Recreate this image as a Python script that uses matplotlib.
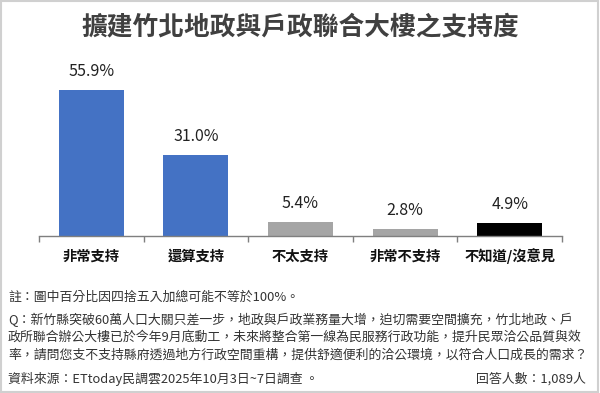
import matplotlib
matplotlib.use("Agg")
import matplotlib.pyplot as plt
from matplotlib.patches import Rectangle

plt.rcParams['font.family'] = ['Noto Sans CJK TC', 'DejaVu Sans']

title = "擴建竹北地政與戶政聯合大樓之支持度"
categories = ["非常支持", "還算支持", "不太支持", "非常不支持", "不知道/沒意見"]
values = [55.9, 31.0, 5.4, 2.8, 4.9]
value_labels = ["55.9%", "31.0%", "5.4%", "2.8%", "4.9%"]
bar_colors = ["#4472C4", "#4472C4", "#A5A5A5", "#A5A5A5", "#000000"]
note_line = "註：圖中百分比因四捨五入加總可能不等於100%。"
question_lines = [
    "Q：新竹縣突破60萬人口大關只差一步，地政與戶政業務量大增，迫切需要空間擴充，竹北地政、戶",
    "政所聯合辦公大樓已於今年9月底動工，未來將整合第一線為民服務行政功能，提升民眾洽公品質與效",
    "率，請問您支不支持縣府透過地方行政空間重構，提供舒適便利的洽公環境，以符合人口成長的需求？",
]
source_text = "資料來源：ETtoday民調雲2025年10月3日~7日調查 。"
sample_text = "回答人數：1,089人"

W, H = 600, 393
fig = plt.figure(figsize=(W / 100, H / 100), dpi=100)
fig.patch.set_facecolor("white")

def px(x, y):
    return x / W, 1 - y / H

# frame
fig.patches.append(Rectangle((0.002, 0.003), 0.995, 0.994, transform=fig.transFigure,
                             fill=False, edgecolor="#d0d0d0", linewidth=1.5))

ax_left, ax_right, ax_bottom, ax_top = 39, 562, 236, 60
ax = fig.add_axes([ax_left / W, 1 - ax_bottom / H, (ax_right - ax_left) / W, (ax_bottom - ax_top) / H])
ymax = (ax_bottom - ax_top) / 2.61
x = list(range(len(categories)))
ax.bar(x, values, width=0.62, color=bar_colors)
ax.set_xlim(-0.5, len(categories) - 0.5)
ax.set_ylim(0, ymax)
for xi, v, lab in zip(x, values, value_labels):
    ax.annotate(lab, (xi, v), xytext=(0, 7), textcoords="offset points",
                ha="center", va="bottom", fontsize=11.5, color="#222222")

for s in ["top", "right", "left"]:
    ax.spines[s].set_visible(False)
ax.spines["bottom"].set_color("#7f7f7f")
ax.spines["bottom"].set_linewidth(1.0)
ax.set_yticks([])
ax.set_xticks([i - 0.5 for i in range(len(categories) + 1)])
ax.set_xticklabels([])
ax.tick_params(axis="x", length=4, width=1, color="#7f7f7f", direction="out")
for xi, c in zip(x, categories):
    ax.text(xi, -0.115, c, transform=ax.get_xaxis_transform(), ha="center", va="center",
            fontsize=10.3, fontweight="bold", color="#111111")

# title
tx, ty = px(300, 27)
fig.text(tx, ty, title, ha="center", va="center", fontsize=18.5, fontweight="bold", color="#404040")

# footnotes
fs = 9.3
c = "#333333"
fig.text(*px(8, 297), note_line, ha="left", va="center", fontsize=fs, color=c)
for i, line in enumerate(question_lines):
    fig.text(*px(8, 320 + i * 17.5), line, ha="left", va="center", fontsize=fs, color=c)
fig.text(*px(8, 379), source_text, ha="left", va="center", fontsize=fs, color=c)
fig.text(*px(586, 379), sample_text, ha="right", va="center", fontsize=fs, color=c)

fig.savefig("out.png", dpi=100)
